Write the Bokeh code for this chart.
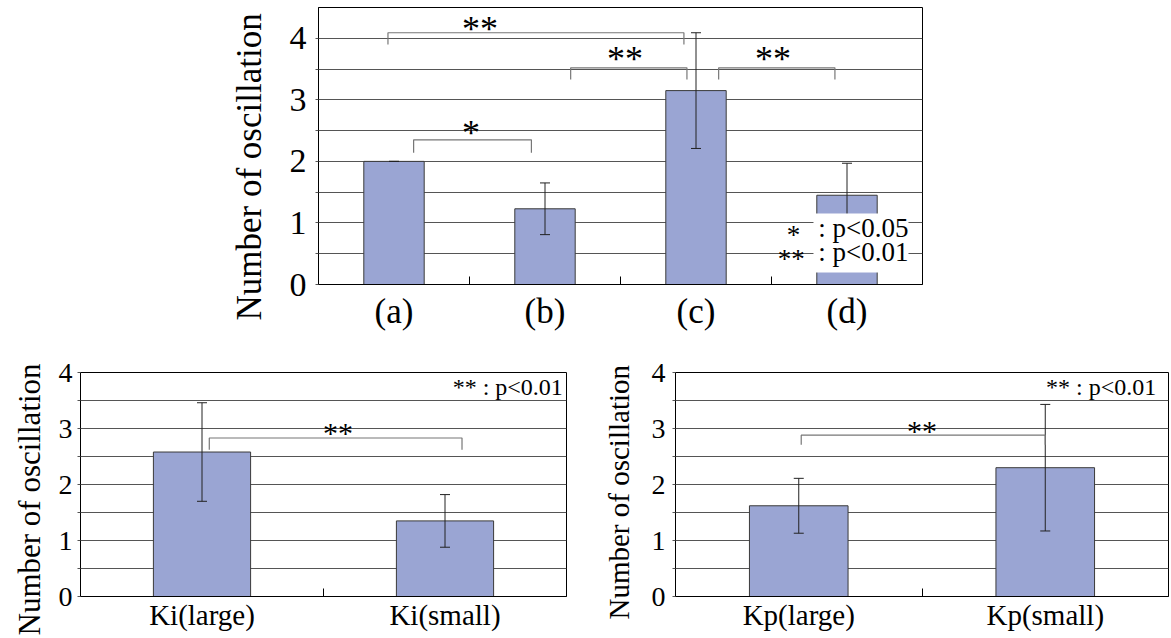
from bokeh.plotting import figure
from bokeh.models import Range1d, FixedTicker, ColumnDataSource, Title
from bokeh.layouts import column, row
from bokeh.embed import file_html
from bokeh.resources import INLINE
from bokeh.core.properties import value

# ---------------- data ----------------
top_cats = ["(a)", "(b)", "(c)", "(d)"]
top_means = [2.00, 1.23, 3.15, 1.45]
top_errs = [0.00, 0.42, 0.94, 0.52]

ki_cats = ["Ki(large)", "Ki(small)"]
ki_means = [2.58, 1.35]
ki_errs = [0.88, 0.47]

kp_cats = ["Kp(large)", "Kp(small)"]
kp_means = [1.62, 2.30]
kp_errs = [0.49, 1.13]

y_ticks = [0, 1, 2, 3, 4]
y_half = [0.5, 1.5, 2.5, 3.5]
y_title = "Number of oscillation"

BAR = "#9AA5D3"
GRID = "#555555"
BRACKET = "#777777"
FONT = "Liberation Serif"


def panel(cats, means, errs, width, height, mb, ymax, fs_tick, fs_cat,
          tick_standoff, cat_standoff, cap, fs_title, title_offset, title_standoff):
    n = len(cats)
    xs = [i + 0.5 for i in range(n)]
    p = figure(width=width, height=height, x_range=Range1d(0, n), y_range=Range1d(0, ymax),
               output_backend="svg", toolbar_location=None,
               min_border_left=mb[0], min_border_right=mb[1],
               min_border_top=mb[2], min_border_bottom=mb[3])
    p.background_fill_color = "white"
    p.border_fill_color = "white"
    p.outline_line_color = "black"
    p.outline_line_width = 1
    p.outline_line_alpha = 1

    src = ColumnDataSource(dict(x=xs, top=means,
                                upper=[m + e for m, e in zip(means, errs)],
                                lower=[m - e for m, e in zip(means, errs)]))
    p.vbar(x="x", top="top", bottom=0, width=0.40, fill_color=BAR,
           line_color="#3a3a3a", line_width=1, source=src)
    p.segment(x0="x", y0="lower", x1="x", y1="upper", line_color="#222222",
              line_width=1, source=src)
    p.scatter(x="x", y="upper", marker="dash", size=cap, line_color="#222222",
              line_width=1, source=src)
    p.scatter(x="x", y="lower", marker="dash", size=cap, line_color="#222222",
              line_width=1, source=src)

    # axes
    p.xaxis.ticker = FixedTicker(ticks=xs, minor_ticks=list(range(1, n)))
    p.xaxis.major_label_overrides = {x: c for x, c in zip(xs, cats)}
    p.xaxis.major_tick_line_color = None
    p.xaxis.minor_tick_in = 8
    p.xaxis.minor_tick_out = 0
    p.xaxis.minor_tick_line_color = "black"
    p.xaxis.axis_line_color = "black"
    p.xaxis.major_label_text_font = FONT
    p.xaxis.major_label_text_font_size = f"{fs_cat}px"
    p.xaxis.major_label_text_color = "black"
    p.xaxis.major_label_standoff = cat_standoff

    p.yaxis.ticker = FixedTicker(ticks=y_ticks, minor_ticks=y_half)
    p.yaxis.major_tick_out = 3
    p.yaxis.major_tick_in = 0
    p.yaxis.minor_tick_out = 3
    p.yaxis.minor_tick_in = 0
    p.yaxis.major_tick_line_color = GRID
    p.yaxis.minor_tick_line_color = GRID
    p.yaxis.axis_line_color = "black"
    p.yaxis.major_label_text_font = FONT
    p.yaxis.major_label_text_font_size = f"{fs_tick}px"
    p.yaxis.major_label_text_color = "black"
    p.yaxis.major_label_standoff = tick_standoff

    p.xgrid.visible = False
    p.ygrid.ticker = FixedTicker(ticks=y_ticks, minor_ticks=y_half)
    p.ygrid.grid_line_color = GRID
    p.ygrid.grid_line_width = 1
    p.ygrid.minor_grid_line_color = GRID
    p.ygrid.minor_grid_line_width = 1

    # y-axis title as a side title so that it can sit lower than the frame centre
    p.add_layout(Title(text=y_title, align="left", vertical_align="bottom",
                       offset=title_offset, standoff=title_standoff,
                       text_font=FONT, text_font_size=f"{fs_title}px",
                       text_font_style="normal", text_color="black"), "left")
    return p


def bracket(p, x0, x1, ytop, yend):
    p.line(x=[x0, x0, x1, x1], y=[yend, ytop, ytop, yend], line_color=BRACKET, line_width=1.2)


def label(p, x, y, txt, size, align="center"):
    p.text(x=[x], y=[y], text=[txt], text_font=value(FONT), text_font_size=f"{size}px",
           text_align=align, text_baseline="middle", text_color="black")


# ---------------- top chart ----------------
top = panel(top_cats, top_means, top_errs, 1171, 345, (318, 249, 7, 61), 4.5,
            34, 35, 9, 1, 10, 35, -36, 36)
bracket(top, 0.46, 2.42, 4.09, 3.90)
bracket(top, 1.67, 2.44, 3.52, 3.33)
bracket(top, 2.65, 3.42, 3.52, 3.33)
bracket(top, 0.63, 1.41, 2.35, 2.14)
label(top, 1.07, 4.15, "**", 36)
label(top, 2.03, 3.66, "**", 36)
label(top, 3.01, 3.66, "**", 36)
label(top, 1.01, 2.46, "*", 36)
top.quad(left=[3.278], right=[3.907], bottom=[0.195], top=[1.153],
         fill_color="white", line_color=None)
label(top, 3.19, 0.80, "*", 27, "right")
label(top, 3.22, 0.42, "**", 27, "right")
label(top, 3.31, 0.91, ": p<0.05", 27, "left")
label(top, 3.31, 0.52, ": p<0.01", 27, "left")

# ---------------- bottom left ----------------
bl = panel(ki_cats, ki_means, ki_errs, 580, 293, (80, 14, 27, 42), 4.0,
           28, 29, 5, -4, 10, 31, -39, 18)
bracket(bl, 0.53, 1.57, 2.83, 2.62)
label(bl, 1.06, 2.92, "**", 30)
label(bl, 1.985, 3.75, "** : p<0.01", 24, "right")

# ---------------- bottom right ----------------
br = panel(kp_cats, kp_means, kp_errs, 591, 293, (95, 3, 26, 41), 4.0,
           28, 29, 7, -4, 10, 29, -23, 28)
bracket(br, 0.51, 1.50, 2.88, 2.71)
label(br, 1.00, 2.97, "**", 30)
label(br, 1.95, 3.75, "** : p<0.01", 24, "right")

layout = column(top, row(bl, br))
open("out.html", "w").write(file_html(layout, INLINE))
